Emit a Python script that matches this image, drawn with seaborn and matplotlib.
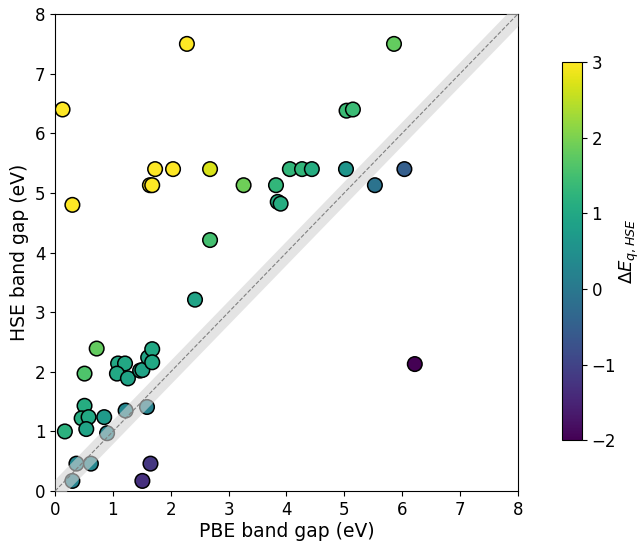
import numpy as np
import pandas as pd
import matplotlib
matplotlib.use("Agg")
import matplotlib.pyplot as plt
import seaborn as sns

pbe_gap = [0.13, 0.30, 2.28, 1.73, 2.04, 1.64, 1.68, 2.68, 3.26, 2.68, 2.42, 3.82,
           3.85, 3.90, 4.06, 4.27, 4.44, 5.03, 5.04, 5.15, 5.86, 5.53, 6.04, 6.22,
           0.72, 0.51, 1.09, 1.21, 1.07, 1.26, 1.47, 1.51, 1.61, 1.68, 1.68,
           0.51, 0.46, 0.58, 0.54, 0.17, 0.85,
           1.22, 1.59, 0.90, 0.37, 0.62, 0.30, 1.65, 1.51]
hse_gap = [6.40, 4.80, 7.50, 5.40, 5.40, 5.13, 5.13, 5.40, 5.13, 4.21, 3.21, 5.13,
           4.85, 4.82, 5.40, 5.40, 5.40, 5.40, 6.38, 6.40, 7.50, 5.13, 5.40, 2.13,
           2.39, 1.97, 2.14, 2.14, 1.97, 1.89, 2.02, 2.03, 2.24, 2.38, 2.16,
           1.43, 1.22, 1.24, 1.04, 1.00, 1.24,
           1.35, 1.41, 0.97, 0.46, 0.46, 0.17, 0.46, 0.17]
delta_e = [3.0, 3.0, 3.0, 3.0, 3.0, 3.0, 3.0, 2.7, 1.9, 1.5, 0.9, 1.3,
           1.1, 1.1, 1.3, 1.3, 1.1, 0.6, 1.4, 1.4, 1.8, -0.1, -0.5, -2.0,
           1.8, 1.6, 1.0, 1.0, 1.0, 0.9, 0.9, 0.9, 0.9, 1.0, 1.0,
           1.1, 1.1, 1.0, 0.9, 1.2, 0.7,
           0.3, 0.2, 0.3, 0.3, 0.3, 0.2, -1.2, -1.3]

df = pd.DataFrame({"pbe": pbe_gap, "hse": hse_gap, "dE": delta_e})

fig = plt.figure(figsize=(6.4, 5.42), dpi=100)
ax = fig.add_axes([0.086, 0.094, 0.723, 0.880])
cax = fig.add_axes([0.878, 0.188, 0.031, 0.697])

norm = matplotlib.colors.Normalize(vmin=-2, vmax=3)
sns.scatterplot(data=df, x="pbe", y="hse", hue="dE", palette="viridis",
                hue_norm=norm, s=110, edgecolor="black", linewidth=1.1,
                legend=False, ax=ax, zorder=2)

xs = np.linspace(0, 8, 100)
ax.fill_between(xs, xs - 0.2, xs + 0.2, color="lightgray", alpha=0.6,
                linewidth=0, zorder=3)
ax.plot(xs, xs, linestyle="--", color="gray", linewidth=0.8, zorder=4)

ax.set_xlim(0, 8)
ax.set_ylim(0, 8)
ax.set_xticks(range(0, 9))
ax.set_yticks(range(0, 9))
ax.tick_params(labelsize=12)
ax.set_xlabel("PBE band gap (eV)", fontsize=13.5, labelpad=2)
ax.set_ylabel("HSE band gap (eV)", fontsize=13.5, labelpad=4)

sm = matplotlib.cm.ScalarMappable(norm=norm, cmap="viridis")
cb = fig.colorbar(sm, cax=cax)
cb.set_ticks([-2, -1, 0, 1, 2, 3])
cb.ax.tick_params(labelsize=12)
cb.set_label(r"$\Delta E_{q,HSE}$", fontsize=13, labelpad=1)

fig.savefig("out.png", dpi=100)
